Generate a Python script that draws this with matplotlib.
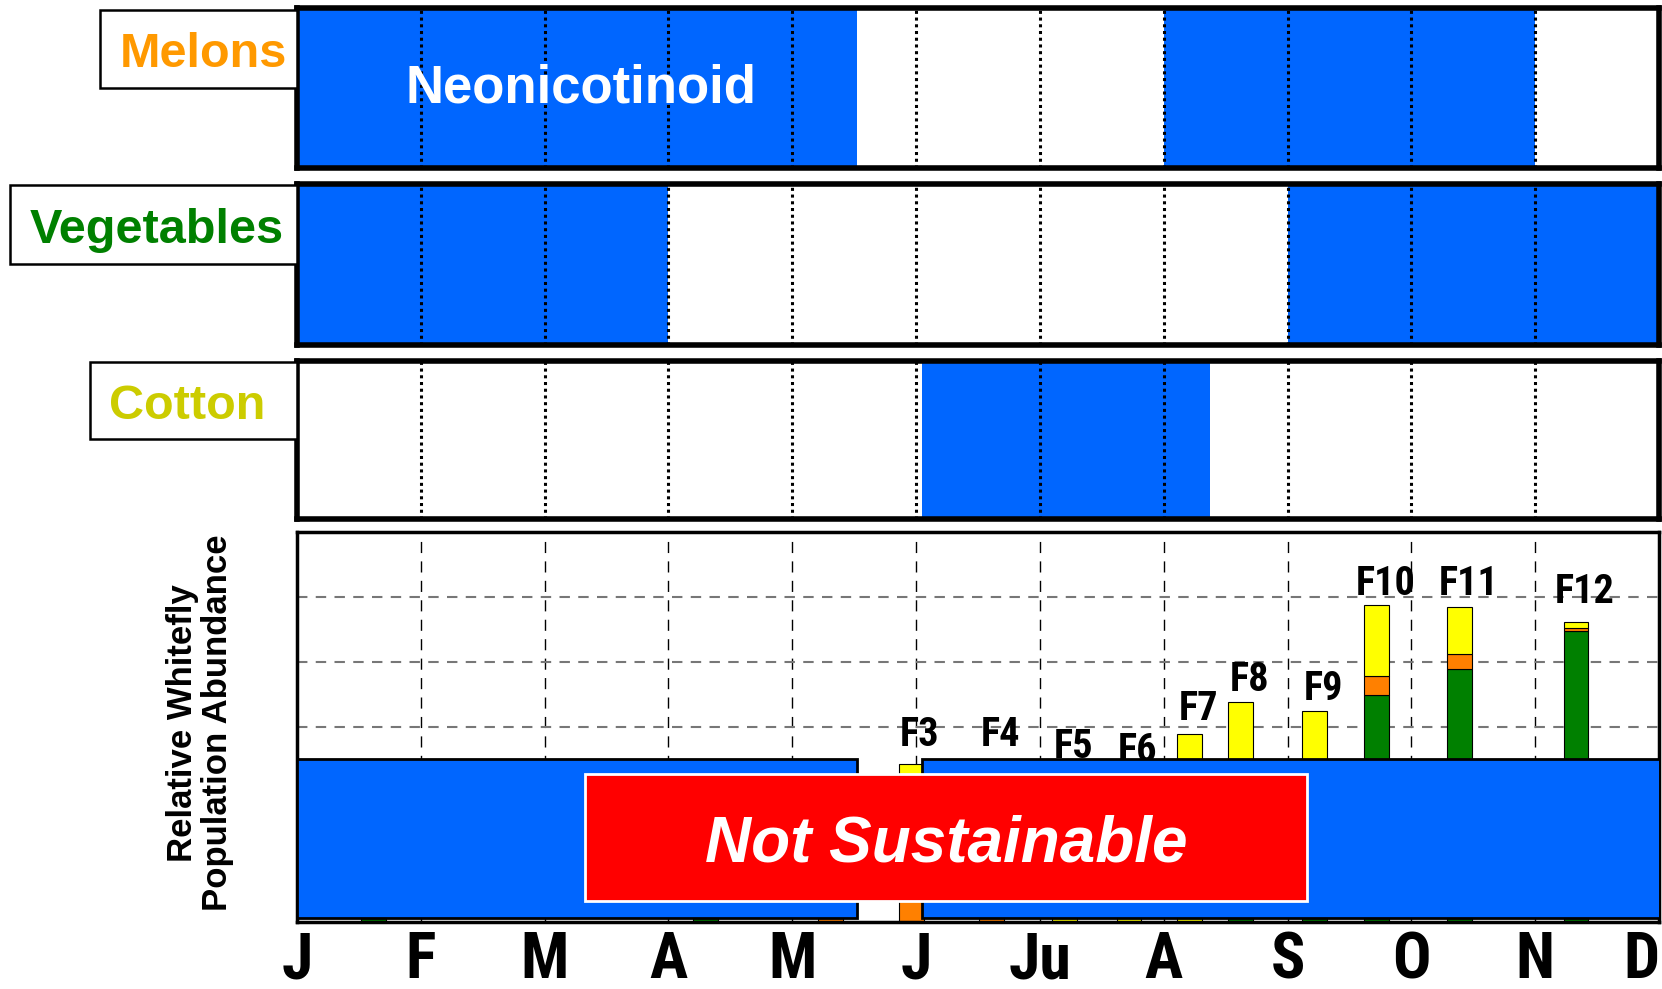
import os
import matplotlib
matplotlib.use('Agg')
import matplotlib.pyplot as plt
from matplotlib.patches import Rectangle
from matplotlib import font_manager
from matplotlib.font_manager import FontProperties

# month axis (J at 0 ... D at 11)
months = ['J', 'F', 'M', 'A', 'M', 'J', 'Ju', 'A', 'S', 'O', 'N', 'D']

# neonicotinoid use windows per crop, in month units
melons_spray = [(0.0, 4.52), (7.0, 10.0)]
veg_spray = [(0.0, 3.0), (8.0, 11.0)]
cotton_spray = [(5.05, 7.37)]

# whitefly generations
flight_pos = [0.62, 3.30, 4.31, 4.96, 5.61, 6.20, 6.72, 7.21, 7.62, 8.22, 8.72, 9.39, 10.33]
flight_names = ['', '', '', 'F3', 'F4', 'F5', 'F6', 'F7', 'F8', 'F9', 'F10', 'F11', 'F12']
label_y = [0, 0, 0, 2.70, 2.70, 2.52, 2.46, 3.11, 3.56, 3.42, 5.03, 5.03, 4.91]
green_vals = [0.4, 0.4, 0.0, 0.0, 0.0, 0.0, 0.0, 0.0, 0.3, 0.3, 3.49, 3.89, 4.47]
orange_vals = [0.0, 0.0, 0.5, 1.0, 2.2, 0.0, 0.0, 0.0, 0.0, 0.0, 0.29, 0.24, 0.06]
yellow_vals = [0.0, 0.0, 0.0, 1.43, 0.0, 2.3, 2.2, 2.89, 3.08, 2.95, 1.10, 0.72, 0.08]

BLUE = '#0066FF'
W, H = 1662, 989

plt.rcParams['font.family'] = ['Liberation Sans', 'DejaVu Sans']

# look for a condensed bold face for the month / generation labels
wanted = ['LiberationSansNarrow-Bold', 'RobotoCondensed-Bold', 'Roboto_Condensed-Bold',
          'DejaVuSansCondensed-Bold', 'OpenSansCondensed-Bold', 'OpenSans_Condensed-Bold',
          'NotoSans-CondensedBold', 'LatoCondensed-Bold']
files = {os.path.splitext(os.path.basename(f.fname))[0]: f.fname
         for f in font_manager.fontManager.ttflist}
narrow_file = next((files[w] for w in wanted if w in files), None)
if narrow_file:
    month_fp = FontProperties(fname=narrow_file, size=46)
    flight_fp = FontProperties(fname=narrow_file, size=29)
else:
    month_fp = FontProperties(family='Liberation Sans', weight='bold', size=40)
    flight_fp = FontProperties(family='Liberation Sans', weight='bold', size=25)


def px_axes(x0, y0, x1, y1):
    # pixel box (from top-left) -> figure fraction
    return fig.add_axes([x0 / W, 1 - y1 / H, (x1 - x0) / W, (y1 - y0) / H])


fig = plt.figure(figsize=(W / 100, H / 100), dpi=100)

crop_panels = [
    ('Melons', '#FF9900', melons_spray, (8, 168), (100, 10, 297, 88), (203, 67)),
    ('Vegetables', '#008000', veg_spray, (184, 345), (10, 185, 297, 264), (157, 243)),
    ('Cotton', '#CCCC00', cotton_spray, (361, 519), (90, 362, 297, 439), (187, 419)),
]

for name, color, spray, (ytop, ybot), box, (tx, base) in crop_panels:
    ax = px_axes(297, ytop, 1659, ybot)
    ax.set_xlim(0, 11)
    ax.set_ylim(0, 1)
    for x0, x1 in spray:
        ax.axvspan(x0, x1, color=BLUE, zorder=1, lw=0)
    for m in range(1, 11):
        ax.axvline(m, color='black', ls=(0, (1, 1.2)), lw=2.2, zorder=2)
    ax.set_xticks([])
    ax.set_yticks([])
    for s in ax.spines.values():
        s.set_linewidth(4)
    bx0, by0, bx1, by1 = box
    fig.patches.append(Rectangle((bx0 / W, 1 - by1 / H), (bx1 - bx0) / W, (by1 - by0) / H,
                                 transform=fig.transFigure, fc='white', ec='black', lw=1.8))
    fig.text(tx / W, 1 - base / H, name, color=color,
             fontsize=35, fontweight='bold', ha='center', va='baseline')
    if name == 'Melons':
        ax.text(2.29, 0.41, 'Neonicotinoid', color='white', fontsize=38,
                fontweight='bold', ha='center', va='baseline', zorder=3)

# population panel
ax = px_axes(297, 532, 1659, 922)
ax.set_xlim(0, 11)
ax.set_ylim(0, 6)
for m in range(1, 11):
    ax.axvline(m, color='black', ls=(0, (8, 6)), lw=1, zorder=1)
for v in range(1, 6):
    ax.axhline(v, color='#777777', ls=(0, (5, 4)), lw=1.5, zorder=1)

bw = 0.2
bottom2 = [g + o for g, o in zip(green_vals, orange_vals)]
ax.bar(flight_pos, green_vals, width=bw, color='#008000', edgecolor='black', lw=0.8, zorder=2)
ax.bar(flight_pos, orange_vals, width=bw, bottom=green_vals, color='#FF8000',
       edgecolor='black', lw=0.8, zorder=2)
ax.bar(flight_pos, yellow_vals, width=bw, bottom=bottom2, color='#FFFF00',
       edgecolor='black', lw=0.8, zorder=2)
for x, nm, ly in zip(flight_pos, flight_names, label_y):
    if nm:
        ax.text(x + 0.07, ly, nm, fontproperties=flight_fp,
                ha='center', va='baseline', zorder=2)

# blanket spray blocks and overlay
for x0, x1 in [(0.0, 4.52), (5.05, 11.2)]:
    ax.add_patch(Rectangle((x0, 0.06), x1 - x0, 2.45, fc=BLUE, ec='black', lw=2, zorder=3))
ax.add_patch(Rectangle((2.33, 0.32), 5.83, 1.95, fc='#FF0000', ec='white', lw=2, zorder=4))
ax.text(5.245, 0.93, 'Not Sustainable', color='white', fontsize=46, fontweight='bold',
        fontstyle='italic', ha='center', va='baseline', zorder=5)

ax.set_yticks([])
ax.set_xticks(range(12))
ax.set_xticklabels(months, fontproperties=month_fp)
ax.tick_params(axis='x', length=0, pad=6)
ax.get_xticklabels()[-1].set_ha('right')
for s in ax.spines.values():
    s.set_linewidth(2.5)

fig.text(200 / W, 1 - 723 / H, 'Relative Whitefly\nPopulation Abundance', rotation=90,
         fontsize=25, fontweight='bold', ha='center', va='center', linespacing=1.1)

fig.savefig('out.png', dpi=100)
